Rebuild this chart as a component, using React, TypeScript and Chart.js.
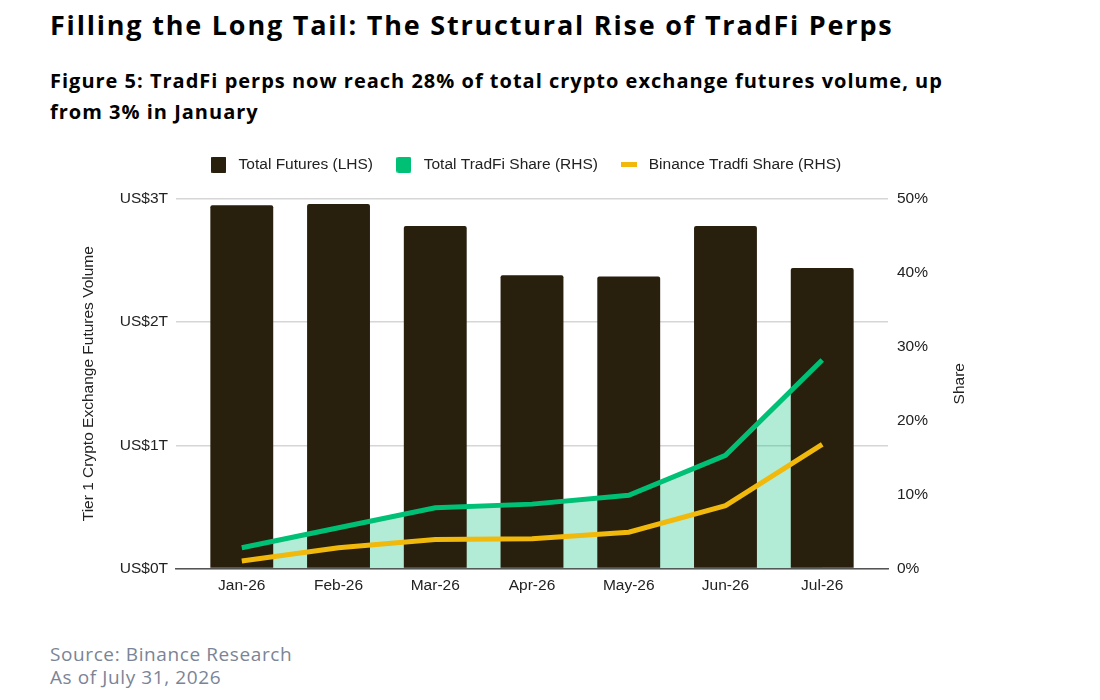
import { useEffect, useRef } from "react"
import { Chart, registerables } from "chart.js"

Chart.register(...registerables)

const months = ["Jan-26", "Feb-26", "Mar-26", "Apr-26", "May-26", "Jun-26", "Jul-26"]
// Tier 1 crypto exchange futures volume, US$ trillions
const totalFutures = [2.95, 2.96, 2.78, 2.38, 2.37, 2.78, 2.44]
// shares of total futures volume, %
const tradfiShare = [2.8, 5.5, 8.2, 8.7, 9.9, 15.3, 28.2]
const binanceShare = [1.0, 2.8, 3.9, 4.0, 4.9, 8.5, 16.8]
const leftTickLabels = ["US$0T", "US$1T", "US$2T", "US$3T"]
const rightTickLabels = ["0%", "10%", "20%", "30%", "40%", "50%"]

const BAR = "#291f0d"
const GREEN = "#00c076"
const GREEN_FILL = "rgba(0, 192, 118, 0.3)"
const YELLOW = "#f0b90b"
const TEXT = "#222222"
const FONT = { family: "'Liberation Sans', Arial, sans-serif", size: 15.5 }

function glyph(w: number, h: number, color: string, radius: number) {
  const c = document.createElement("canvas")
  c.width = w
  c.height = h
  const g = c.getContext("2d")!
  g.fillStyle = color
  g.beginPath()
  g.roundRect(0, 0, w, h, radius)
  g.fill()
  return c
}

// "Share" reads bottom-to-top, so draw it here instead of the axis title
const shareTitle = {
  id: "shareTitle",
  afterDraw(chart: Chart) {
    const { ctx, chartArea } = chart
    const scale = chart.scales.yRight
    ctx.save()
    ctx.translate(scale.left + 72, (chartArea.top + chartArea.bottom) / 2)
    ctx.rotate(-Math.PI / 2)
    ctx.font = `${FONT.size}px ${FONT.family}`
    ctx.fillStyle = TEXT
    ctx.textAlign = "center"
    ctx.textBaseline = "middle"
    ctx.fillText("Share", 0, 0)
    ctx.restore()
  },
}

function FuturesChart() {
  const chartRef = useRef<HTMLCanvasElement>(null)
  const chartInstance = useRef<Chart | null>(null)

  useEffect(() => {
    if (!chartRef.current) return
    if (chartInstance.current) chartInstance.current.destroy()

    const xy = (arr: number[]) => arr.map((y, i) => ({ x: i, y }))
    const glyphs = [glyph(15, 16, BAR, 1), glyph(15, 16, GREEN, 2), glyph(16, 5, YELLOW, 0)]

    chartInstance.current = new Chart(chartRef.current, {
      type: "bar",
      data: {
        datasets: [
          {
            type: "line",
            label: "Total TradFi Share (RHS)",
            data: xy(tradfiShare),
            yAxisID: "yRight",
            borderColor: GREEN,
            backgroundColor: GREEN_FILL,
            borderWidth: 5,
            pointRadius: 0,
            tension: 0,
            fill: "origin",
            order: 1,
          },
          {
            type: "line",
            label: "Binance Tradfi Share (RHS)",
            data: xy(binanceShare),
            yAxisID: "yRight",
            borderColor: YELLOW,
            backgroundColor: YELLOW,
            borderWidth: 5,
            pointRadius: 0,
            tension: 0,
            fill: false,
            order: 0,
          },
          {
            type: "bar",
            label: "Total Futures (LHS)",
            data: xy(totalFutures),
            yAxisID: "yLeft",
            backgroundColor: BAR,
            borderRadius: 2,
            barPercentage: 0.65,
            categoryPercentage: 1,
            order: 2,
          },
        ],
      } as any,
      options: {
        animation: false,
        responsive: true,
        maintainAspectRatio: false,
        layout: { padding: { top: 8, left: 60, right: 112, bottom: 7 } },
        plugins: {
          filler: { drawTime: "beforeDatasetsDraw" },
          tooltip: { enabled: false },
          legend: {
            position: "top",
            labels: {
              usePointStyle: true,
              pointStyleWidth: 24,
              padding: 19,
              color: TEXT,
              font: FONT,
              generateLabels: () =>
                ["Total Futures (LHS)", "Total TradFi Share (RHS)", "Binance Tradfi Share (RHS)"].map((text, i) => ({
                  text,
                  pointStyle: glyphs[i],
                  fillStyle: "transparent",
                  strokeStyle: "transparent",
                  lineWidth: 0,
                  hidden: false,
                  datasetIndex: [2, 0, 1][i],
                  fontColor: TEXT,
                })),
            },
          },
          // empty spacer between legend and plot
          title: { display: true, text: "", weight: 500, padding: 0, font: { size: 16.5, lineHeight: 1 } },
        },
        scales: {
          x: {
            type: "linear",
            offset: false,
            min: -0.68,
            max: 6.68,
            grid: { display: false, drawTicks: false },
            border: { display: true, color: "#555555", width: 1.5 },
            ticks: {
              stepSize: 1,
              includeBounds: false,
              autoSkip: false,
              maxRotation: 0,
              padding: 8,
              color: TEXT,
              font: FONT,
              callback: (v: any) => months[v] ?? "",
            },
          },
          yLeft: {
            position: "left",
            min: 0,
            max: 3,
            grid: { color: "#d6d6d6", lineWidth: 1.5, drawTicks: false },
            border: { display: false },
            ticks: {
              stepSize: 1,
              padding: 8,
              color: TEXT,
              font: FONT,
              callback: (_v: any, i: number) => leftTickLabels[i],
            },
            title: {
              display: true,
              text: "Tier 1 Crypto Exchange Futures Volume",
              color: TEXT,
              font: FONT,
              padding: { top: 19, bottom: 0 },
            },
            afterFit: (s: any) => {
              s.width = 116
            },
          },
          yRight: {
            position: "right",
            min: 0,
            max: 50,
            grid: { display: false, drawTicks: false },
            border: { display: false },
            ticks: {
              stepSize: 10,
              padding: 9,
              color: TEXT,
              font: FONT,
              callback: (_v: any, i: number) => rightTickLabels[i],
            },
            afterFit: (s: any) => {
              s.width = 100
            },
          },
        },
      } as any,
      plugins: [shareTitle],
    })

    return () => {
      if (chartInstance.current) {
        chartInstance.current.destroy()
        chartInstance.current = null
      }
    }
  }, [])

  return <canvas ref={chartRef}></canvas>
}

export default function App() {
  const heading = "'Open Sans', 'DejaVu Sans', sans-serif"
  return (
    <div style={{ position: "absolute", left: 0, top: 0, width: 1100, height: 700, background: "#fff", overflow: "hidden" }}>
      <div
        style={{
          position: "absolute",
          left: 50,
          top: 11,
          fontFamily: heading,
          fontWeight: 700,
          fontSize: 27,
          lineHeight: "27px",
          letterSpacing: 1.8,
          color: "#000",
          whiteSpace: "nowrap",
        }}
      >
        Filling the Long Tail: The Structural Rise of TradFi Perps
      </div>
      <div
        style={{
          position: "absolute",
          left: 50,
          top: 65,
          fontFamily: heading,
          fontWeight: 700,
          fontSize: 20,
          lineHeight: "31px",
          letterSpacing: 1,
          color: "#000",
          whiteSpace: "nowrap",
        }}
      >
        Figure 5: TradFi perps now reach 28% of total crypto exchange futures volume, up
        <br />
        from 3% in January
      </div>
      <div style={{ position: "absolute", left: 0, top: 130, width: 1100, height: 480 }}>
        <FuturesChart />
      </div>
      <div
        style={{
          position: "absolute",
          left: 50,
          top: 643,
          fontFamily: heading,
          fontSize: 19,
          lineHeight: "23px",
          letterSpacing: 0.6,
          color: "#7b8496",
        }}
      >
        Source: Binance Research
        <br />
        As of July 31, 2026
      </div>
    </div>
  )
}
